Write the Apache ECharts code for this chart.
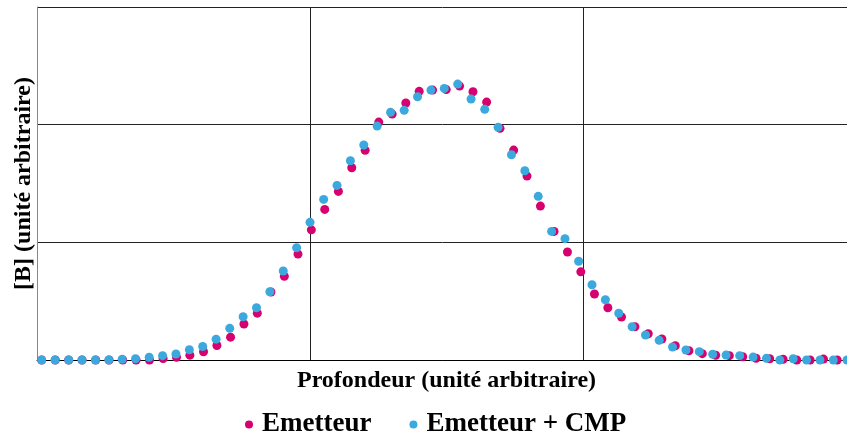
<!DOCTYPE html>
<html>
<head>
<meta charset="utf-8">
<title></title>
<script src="https://cdn.jsdelivr.net/npm/echarts@6/dist/echarts.min.js"></script>
<style>
  html, body { margin: 0; padding: 0; background: #fff; }
  #main { width: 847px; height: 437px; }
</style>
</head>
<body>
<div id="main"></div>
<script>
// profondeur (unite arbitraire) pour chaque serie
var xEmetteur = [0.017, 0.067, 0.116, 0.165, 0.215, 0.264, 0.314, 0.363, 0.412, 0.462,
  0.511, 0.560, 0.610, 0.659, 0.709, 0.758, 0.807, 0.857, 0.906, 0.956,
  1.005, 1.054, 1.104, 1.153, 1.202, 1.252, 1.301, 1.351, 1.400, 1.449,
  1.499, 1.548, 1.597, 1.647, 1.696, 1.746, 1.795, 1.844, 1.894, 1.943,
  1.992, 2.042, 2.091, 2.141, 2.190, 2.239, 2.289, 2.338, 2.388, 2.437,
  2.486, 2.536, 2.585, 2.634, 2.684, 2.733, 2.783, 2.832, 2.881, 2.931];
var yEmetteur = [0, 0, 0, 0, 0, 0, 0, 0, 0, 0.013,
  0.023, 0.041, 0.070, 0.123, 0.194, 0.306, 0.398, 0.578, 0.711, 0.900,
  1.106, 1.280, 1.433, 1.634, 1.782, 2.022, 2.090, 2.184, 2.283, 2.294,
  2.298, 2.328, 2.280, 2.192, 1.969, 1.784, 1.563, 1.308, 1.093, 0.918,
  0.749, 0.561, 0.444, 0.365, 0.283, 0.223, 0.178, 0.121, 0.079, 0.054,
  0.040, 0.037, 0.028, 0.014, 0.011, 0.006, 0, 0, 0.008, 0];

var xCMP = [0.017, 0.066, 0.116, 0.165, 0.214, 0.263, 0.312, 0.361, 0.411, 0.460,
  0.509, 0.558, 0.607, 0.656, 0.706, 0.755, 0.804, 0.853, 0.902, 0.951,
  1.000, 1.050, 1.099, 1.148, 1.197, 1.246, 1.295, 1.345, 1.394, 1.443,
  1.492, 1.541, 1.590, 1.640, 1.689, 1.738, 1.787, 1.836, 1.885, 1.934,
  1.984, 2.033, 2.082, 2.131, 2.180, 2.229, 2.279, 2.328, 2.377, 2.426,
  2.475, 2.524, 2.574, 2.623, 2.672, 2.721, 2.770, 2.819, 2.868, 2.917, 2.967];
var yCMP = [0, 0, 0, 0, 0, 0, 0.006, 0.011, 0.023, 0.037,
  0.051, 0.087, 0.115, 0.177, 0.269, 0.368, 0.444, 0.580, 0.756, 0.954,
  1.170, 1.365, 1.484, 1.693, 1.827, 1.988, 2.105, 2.122, 2.237, 2.294,
  2.308, 2.345, 2.218, 2.130, 1.977, 1.744, 1.608, 1.391, 1.093, 1.031,
  0.839, 0.640, 0.512, 0.397, 0.283, 0.212, 0.167, 0.110, 0.085, 0.071,
  0.049, 0.042, 0.037, 0.025, 0.014, 0, 0.011, 0, 0, 0, 0];

var nomsSeries = ['Emetteur', 'Emetteur + CMP'];
var couleurs = ['#D6006E', '#3BA9DD'];

function paires(xs, ys) {
  var out = [];
  for (var i = 0; i < xs.length; i++) out.push([xs[i], ys[i]]);
  return out;
}

var police = '"Liberation Serif", "Times New Roman", serif';
var myChart = echarts.init(document.getElementById('main'));
var option = {
  animation: false,
  // la grille depasse a droite : le dernier trait vertical est hors cadre
  grid: { left: 37, top: 7, width: 819, bottom: 77, containLabel: false, outerBoundsMode: 'none' },
  xAxis: {
    type: 'value', min: 0, max: 3, interval: 1,
    name: 'Profondeur (unité arbitraire)',
    nameLocation: 'middle', nameGap: 9,
    nameTextStyle: { fontFamily: police, fontWeight: 'bold', fontSize: 24, color: '#000' },
    axisLine: { show: true, lineStyle: { color: '#000', width: 1 } },
    axisTick: { show: false },
    axisLabel: { show: false },
    splitLine: { show: true, showMinLine: false, lineStyle: { color: '#222', width: 1 } }
  },
  yAxis: {
    type: 'value', min: 0, max: 3, interval: 1,
    name: '[B] (unité arbitraire)',
    nameLocation: 'middle', nameGap: 1,
    nameTextStyle: { fontFamily: police, fontWeight: 'bold', fontSize: 24, color: '#000' },
    axisLine: { show: true, lineStyle: { color: '#888', width: 1 } },
    axisTick: { show: false },
    axisLabel: { show: false },
    splitLine: { show: true, lineStyle: { color: '#222', width: 1 } }
  },
  legend: {
    left: 240, top: 406,
    icon: 'circle', itemWidth: 8, itemHeight: 8, itemGap: 38,
    textStyle: { fontFamily: police, fontWeight: 'bold', fontSize: 27, color: '#000', padding: [0, 0, 0, 4] },
    data: nomsSeries
  },
  series: [{
    name: nomsSeries[0], type: 'scatter',
    symbolSize: 9,
    itemStyle: { color: couleurs[0], opacity: 1 },
    data: paires(xEmetteur, yEmetteur)
  }, {
    name: nomsSeries[1], type: 'scatter',
    symbolSize: 9,
    itemStyle: { color: couleurs[1], opacity: 1 },
    data: paires(xCMP, yCMP)
  }]
};
myChart.setOption(option);
</script>
</body>
</html>
